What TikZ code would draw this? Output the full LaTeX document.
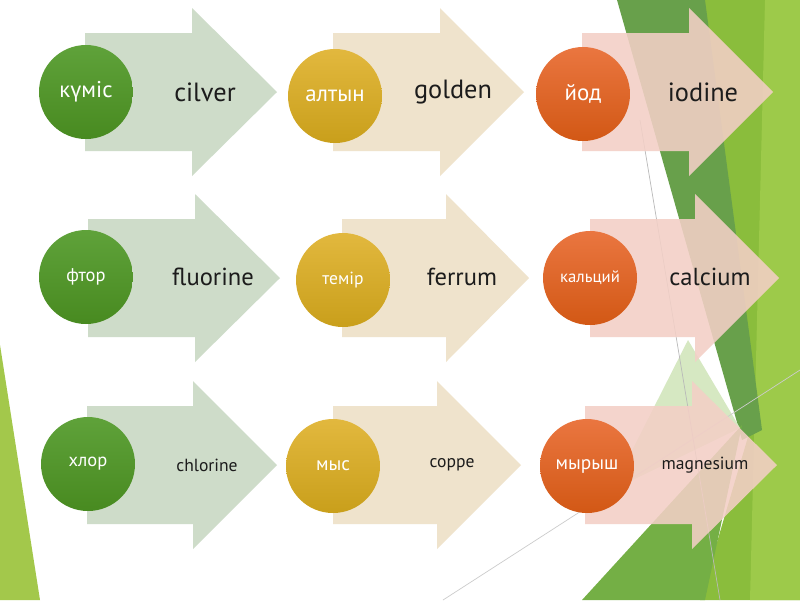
\documentclass[tikz,border=0pt]{standalone}
\usepackage{fontspec}
\setmainfont{PT Sans}
\definecolor{limebg}{HTML}{8ABD3C}
\definecolor{limelt}{HTML}{9DCA4A}
\definecolor{darkbg}{HTML}{68A04B}
\definecolor{midbg}{HTML}{74AF45}
\definecolor{palebg}{HTML}{D6E8C2}
\definecolor{wedge}{HTML}{A3C84B}
\definecolor{garrow}{HTML}{CEDCC9}
\definecolor{yarrow}{HTML}{EFE3CC}
\definecolor{parrow}{HTML}{F3CFC6}
\definecolor{gtop}{HTML}{5FA23A}
\definecolor{gbot}{HTML}{488A20}
\definecolor{ytop}{HTML}{E2B83E}
\definecolor{ybot}{HTML}{C99F1B}
\definecolor{otop}{HTML}{EA7640}
\definecolor{obot}{HTML}{D25815}
\definecolor{ink}{HTML}{1C1C1C}
\tikzset{
  ball/.style={circle, minimum size=1.88cm, inner sep=0pt, text=white},
  gball/.style={ball, top color=gtop, bottom color=gbot},
  yball/.style={ball, top color=ytop, bottom color=ybot},
  oball/.style={ball, top color=otop, bottom color=obot},
  word/.style={text=ink, inner sep=1pt},
  big/.style={word, font=\fontsize{15}{18}\selectfont},
  mid/.style={word, font=\fontsize{14}{17}\selectfont},
  small/.style={word, font=\fontsize{10}{12}\selectfont}
}
\begin{document}
\begin{tikzpicture}[x=0.02cm, y=-0.02cm]
    \useasboundingbox (0,0) rectangle (800,600);
    \fill[white] (0,0) rectangle (800,600);
    \fill[wedge] (0,345) -- (40,600) -- (0,600) -- cycle;
    \fill[limebg] (700,0) -- (800,0) -- (800,600) -- (700,600) -- (750,430) -- cycle;
    \fill[limelt] (765,0) -- (800,0) -- (800,600) -- (750,600) -- cycle;
    \fill[darkbg] (617,0) -- (705,0) -- (762,430) -- (742,440) -- cycle;
    \fill[midbg] (582,600) -- (742,425) -- (705,600) -- cycle;
    \fill[palebg] (688,340) -- (740,428) -- (612,490) -- cycle;
    \draw[gray!55, line width=0.4pt] (640,120) -- (720,600);
    \draw[gray!40, line width=0.4pt] (443,600) -- (800,370);
    \fill[garrow] (85,33) -- ++(107,0) -- ++(0,-25) -- ++(85,84) -- ++(-85,84) -- ++(0,-25) -- ++(-107,0) -- cycle;
    \fill[yarrow] (333,33) -- ++(107,0) -- ++(0,-25) -- ++(84,84) -- ++(-84,84) -- ++(0,-25) -- ++(-107,0) -- cycle;
    \fill[parrow, opacity=0.88] (582,33) -- ++(107,0) -- ++(0,-25) -- ++(84,84) -- ++(-84,84) -- ++(0,-25) -- ++(-107,0) -- cycle;
    \fill[garrow] (88,219) -- ++(107,0) -- ++(0,-25) -- ++(85,84) -- ++(-85,84) -- ++(0,-25) -- ++(-107,0) -- cycle;
    \fill[yarrow] (342,219) -- ++(104,0) -- ++(0,-25) -- ++(83,84) -- ++(-83,84) -- ++(0,-25) -- ++(-104,0) -- cycle;
    \fill[parrow, opacity=0.88] (590,219) -- ++(105,0) -- ++(0,-25) -- ++(84,84) -- ++(-84,84) -- ++(0,-25) -- ++(-105,0) -- cycle;
    \fill[garrow] (87,406) -- ++(106,0) -- ++(0,-25) -- ++(84,84) -- ++(-84,84) -- ++(0,-25) -- ++(-106,0) -- cycle;
    \fill[yarrow] (333,406) -- ++(104,0) -- ++(0,-25) -- ++(84,84) -- ++(-84,84) -- ++(0,-25) -- ++(-104,0) -- cycle;
    \fill[parrow, opacity=0.88] (585,406) -- ++(107,0) -- ++(0,-25) -- ++(85,84) -- ++(-85,84) -- ++(0,-25) -- ++(-107,0) -- cycle;
    \node[gball, font=\fontsize{13}{15}\selectfont] (kumis) at (86,92) {күміс};
    \node[yball, font=\fontsize{13}{15}\selectfont] (altyn) at (335,96) {алтын};
    \node[oball, font=\fontsize{13}{15}\selectfont] (iod) at (583,94) {йод};
    \node[gball, font=\fontsize{10.5}{13}\selectfont] (ftor) at (86,277) {фтор};
    \node[yball, font=\fontsize{10}{12}\selectfont] (temir) at (343,280) {темір};
    \node[oball, font=\fontsize{9.5}{11}\selectfont] (kalciy) at (590,278) {кальций};
    \node[gball, font=\fontsize{10.5}{13}\selectfont] (khlor) at (88,464) {хлор};
    \node[yball, font=\fontsize{11}{13}\selectfont] (mys) at (333,466) {мыс};
    \node[oball, font=\fontsize{11}{13}\selectfont] (myrysh) at (587,466) {мырыш};
    \node[big] (cilver) at (205,92) {cilver};
    \node[big] (golden) at (453,92) {golden};
    \node[big] (iodine) at (703,92) {iodine};
    \node[mid] (fluorine) at (213,277) {fluorine};
    \node[mid] (ferrum) at (462,277) {ferrum};
    \node[mid] (calcium) at (710,277) {calcium};
    \node[small] (chlorine) at (207,465) {chlorine};
    \node[small] (coppe) at (452,465) {coppe};
    \node[small] (magnesium) at (705,465) {magnesium};
\end{tikzpicture}
\end{document}
